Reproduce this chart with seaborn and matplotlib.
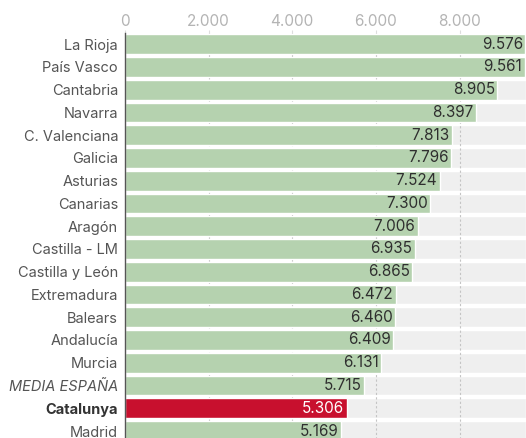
import matplotlib

matplotlib.use("Agg")
import matplotlib.pyplot as plt
import pandas as pd
import seaborn as sns

regions = [
    "La Rioja", "País Vasco", "Cantabria", "Navarra", "C. Valenciana",
    "Galicia", "Asturias", "Canarias", "Aragón", "Castilla - LM",
    "Castilla y León", "Extremadura", "Balears", "Andalucía", "Murcia",
    "MEDIA ESPAÑA", "Catalunya", "Madrid",
]
values = [
    9576, 9561, 8905, 8397, 7813, 7796, 7524, 7300, 7006, 6935,
    6865, 6472, 6460, 6409, 6131, 5715, 5306, 5169,
]
x_ticks = [0, 2000, 4000, 6000, 8000]
highlight = "Catalunya"
average = "MEDIA ESPAÑA"

GREEN = "#b5d2af"
RED = "#c8102e"
BAND = "#efefef"
X_MAX = 9590


def fmt(v):
    return f"{v:,}".replace(",", ".")


sns.set_theme(style="white")
plt.rcParams["font.family"] = ["Inter", "DejaVu Sans"]

df = pd.DataFrame({"region": regions, "value": values})
df["band"] = X_MAX
colors = {r: (RED if r == highlight else GREEN) for r in regions}

fig = plt.figure(figsize=(5.26, 4.38), dpi=100)
ax = fig.add_axes([0.2376, -0.01, 0.7624, 0.935])

# Light grey background band for every row
sns.barplot(data=df, x="band", y="region", color=BAND, width=0.86,
            saturation=1, orient="h", ax=ax, zorder=1)
for t in x_ticks[1:]:
    ax.axvline(t, color="#c4c4c4", linestyle=(0, (2, 2)), linewidth=0.8, zorder=2)
sns.barplot(data=df, x="value", y="region", hue="region", palette=colors,
            width=0.86, saturation=1, orient="h", legend=False, ax=ax, zorder=3)

for i, v in enumerate(values):
    c = "white" if regions[i] == highlight else "#2f2f2f"
    ax.text(v - 60, i, fmt(v), ha="right", va="center", fontsize=11,
            color=c, zorder=4)

ax.set_xlim(0, X_MAX)
ax.set_ylim(len(regions) - 0.5, -0.5)
ax.xaxis.tick_top()
ax.set_xticks(x_ticks)
ax.set_xticklabels([fmt(t) for t in x_ticks], fontsize=11, color="#b4b4b4")
ax.tick_params(axis="x", length=2, width=0.8, color="#dddddd", pad=1, top=True)
ax.tick_params(axis="y", length=0, pad=5, labelsize=10.5, labelcolor="#555555")
ax.set_xlabel("")
ax.set_ylabel("")

for lbl in ax.get_yticklabels():
    if lbl.get_text() == highlight:
        lbl.set_fontweight("bold")
        lbl.set_color("#333333")
    elif lbl.get_text() == average:
        lbl.set_fontstyle("italic")

for side in ["top", "right", "bottom"]:
    ax.spines[side].set_visible(False)
ax.spines["left"].set_color("#555555")
ax.spines["left"].set_linewidth(1.0)
ax.spines["left"].set_zorder(5)

fig.savefig("out.png", dpi=100)
